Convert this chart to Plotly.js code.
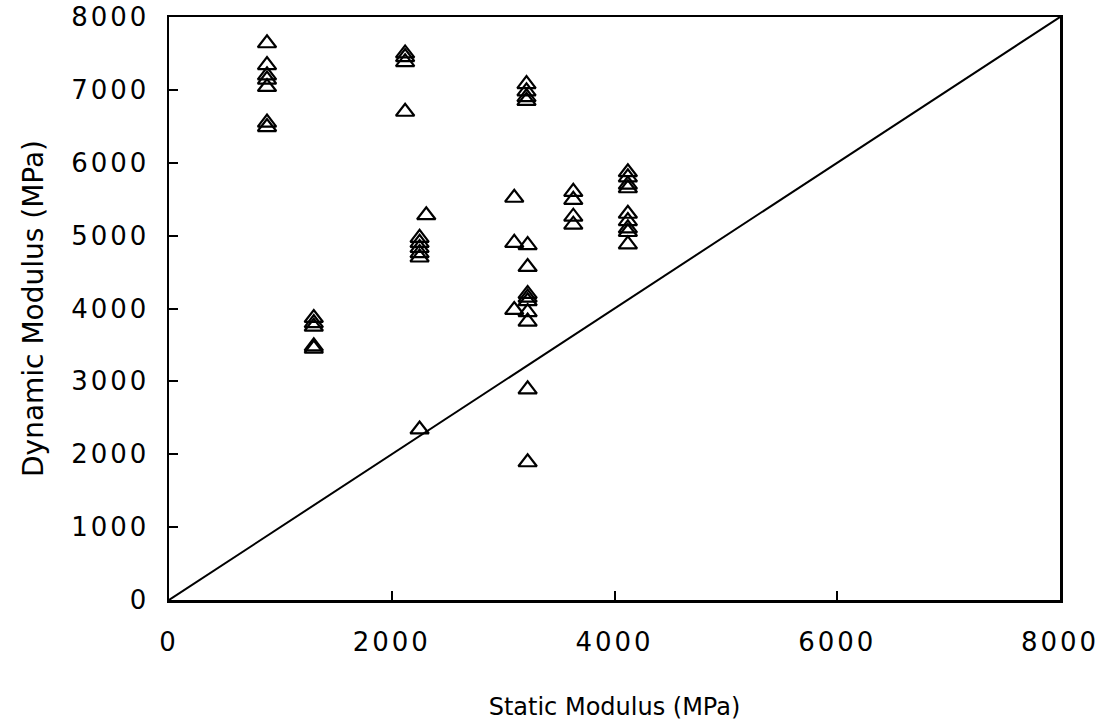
<!DOCTYPE html>
<html>
<head>
<meta charset="utf-8">
<script src="https://cdn.plot.ly/plotly-3.0.1.min.js"></script>
<style>
html,body{margin:0;padding:0;background:#fff;}
#chart{width:1107px;height:721px;}
.xtick text, .ytick text{letter-spacing:3px;}
</style>
</head>
<body>
<div id="chart"></div>
<script>
// Static modulus (MPa)
const staticModulus = [
  880, 880, 880, 880, 880, 880, 880,
  1300, 1300, 1300, 1300, 1300,
  2120, 2120, 2120, 2120,
  2250, 2250, 2250, 2250, 2250, 2250,
  2310,
  3100, 3100, 3100,
  3210, 3210, 3210, 3210,
  3220, 3220, 3220, 3220, 3220, 3220, 3220, 3220, 3220,
  3630, 3630, 3630, 3630,
  4120, 4120, 4120, 4120, 4120, 4120, 4120, 4120, 4120
];
// Dynamic modulus (MPa)
const dynamicModulus = [
  7640, 7340, 7200, 7140, 7040, 6550, 6490,
  3870, 3800, 3750, 3480, 3450,
  7500, 7450, 7380, 6700,
  4970, 4900, 4830, 4760, 4700, 2340,
  5280,
  5520, 4900, 3980,
  7080, 6980, 6900, 6850,
  4870, 4570, 4200, 4150, 4100, 3950, 3820, 2890, 1890,
  5600, 5490, 5260, 5150,
  5870, 5800, 5700, 5650, 5300, 5200, 5100, 5050, 4880
];
// Line of equality
const equalityX = [0, 8000];
const equalityY = [0, 8000];
const tickVals = [0, 2000, 4000, 6000, 8000];
const yTickVals = [0, 1000, 2000, 3000, 4000, 5000, 6000, 7000, 8000];

const font = "DejaVu Sans, sans-serif";

const traces = [
  {
    x: equalityX, y: equalityY, type: 'scatter', mode: 'lines',
    line: {color: '#000', width: 2}, hoverinfo: 'skip', showlegend: false
  },
  {
    x: staticModulus, y: dynamicModulus, type: 'scatter', mode: 'markers',
    marker: {symbol: 'triangle-up-open', size: 16, color: '#000', line: {color: '#000', width: 2.2}},
    showlegend: false
  }
];

const layout = {
  width: 1107, height: 721,
  paper_bgcolor: '#fff', plot_bgcolor: '#fff',
  margin: {l: 169, r: 47, t: 17, b: 121},
  font: {family: font, color: '#000', size: 22},
  xaxis: {
    range: [0, 8000], tickvals: tickVals, ticktext: tickVals.map(String),
    showgrid: false, zeroline: false,
    showline: true, linecolor: '#000', linewidth: 2.5, mirror: true,
    ticks: 'inside', ticklen: 9, tickwidth: 2, tickcolor: '#000',
    ticklabelstandoff: 17,
    tickfont: {family: font, size: 26, color: '#000'},
    title: {text: 'Static Modulus (MPa)', font: {family: font, size: 24, color: '#000'}, standoff: 45}
  },
  yaxis: {
    range: [0, 8000], tickvals: yTickVals, ticktext: yTickVals.map(String),
    showgrid: false, zeroline: false,
    showline: true, linecolor: '#000', linewidth: 2.5, mirror: true,
    ticks: 'inside', ticklen: 9, tickwidth: 2, tickcolor: '#000',
    ticklabelstandoff: 12,
    tickfont: {family: font, size: 26, color: '#000'},
    title: {text: 'Dynamic Modulus (MPa)', font: {family: font, size: 28, color: '#000'}, standoff: 20}
  }
};

Plotly.newPlot('chart', traces, layout, {staticPlot: true, displayModeBar: false});
</script>
</body>
</html>
